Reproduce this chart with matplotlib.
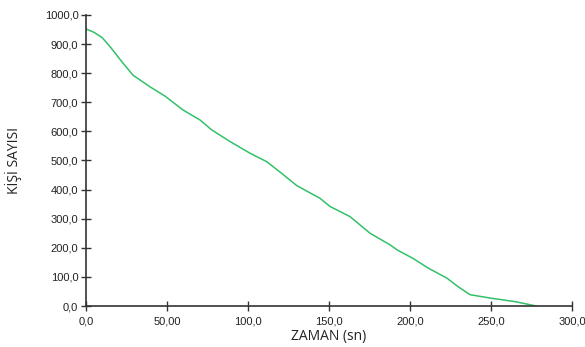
import matplotlib
matplotlib.use("Agg")
import matplotlib.pyplot as plt

# zaman (sn) ve kisi sayisi
zaman = [0, 5, 10, 15, 22, 29, 39.5, 48.8, 60, 70.4, 77.6, 88.9, 101.2, 111.5,
         119.8, 130, 144.4, 150.6, 163, 175.3, 187.7, 192, 202, 211.3, 222.7,
         230, 237, 250, 265, 278]
kisi = [952, 940, 922, 890, 840, 793, 753, 721, 673, 639, 605, 565, 525, 496,
        460, 414, 370, 342, 307, 250, 210, 193, 163, 130, 96,
        65, 39, 27, 15, 0]

x_ticks = [0, 50, 100, 150, 200, 250, 300]
x_labels = ['0,0', '50,00', '100,0', '150,0', '200,0', '250,0', '300,0']
y_ticks = [0, 100, 200, 300, 400, 500, 600, 700, 800, 900, 1000]
y_labels = ['0,0', '100,0', '200,0', '300,0', '400,0', '500,0', '600,0',
            '700,0', '800,0', '900,0', '1000,0']

fig = plt.figure(figsize=(5.85, 3.47), dpi=100)
ax = fig.add_axes([0.147, 0.118, 0.831, 0.839])

ax.plot(zaman, kisi, color='#33c06a', linewidth=1.1)

ax.set_xlim(0, 300)
ax.set_ylim(0, 1000)
ax.set_xticks(x_ticks)
ax.set_xticklabels(x_labels, fontsize=8, family='Liberation Sans', color='#222222')
ax.set_yticks(y_ticks)
ax.set_yticklabels(y_labels, fontsize=8, family='Liberation Sans', color='#222222')

for s in ['top', 'right']:
    ax.spines[s].set_visible(False)
for s in ['left', 'bottom']:
    ax.spines[s].set_color('#333333')
    ax.spines[s].set_linewidth(1.2)
ax.tick_params(axis='x', direction='inout', length=7, width=1, color='#333333', pad=4)
ax.tick_params(axis='y', direction='inout', length=7, width=1, color='#333333', pad=2)

ax.set_xlabel('ZAMAN (sn)', fontsize=10, family='Open Sans', color='#222222', labelpad=2)
ax.set_ylabel('KİŞİ SAYISI', fontsize=10, family='Open Sans', color='#222222', labelpad=16)

fig.savefig('out.png', dpi=100)
